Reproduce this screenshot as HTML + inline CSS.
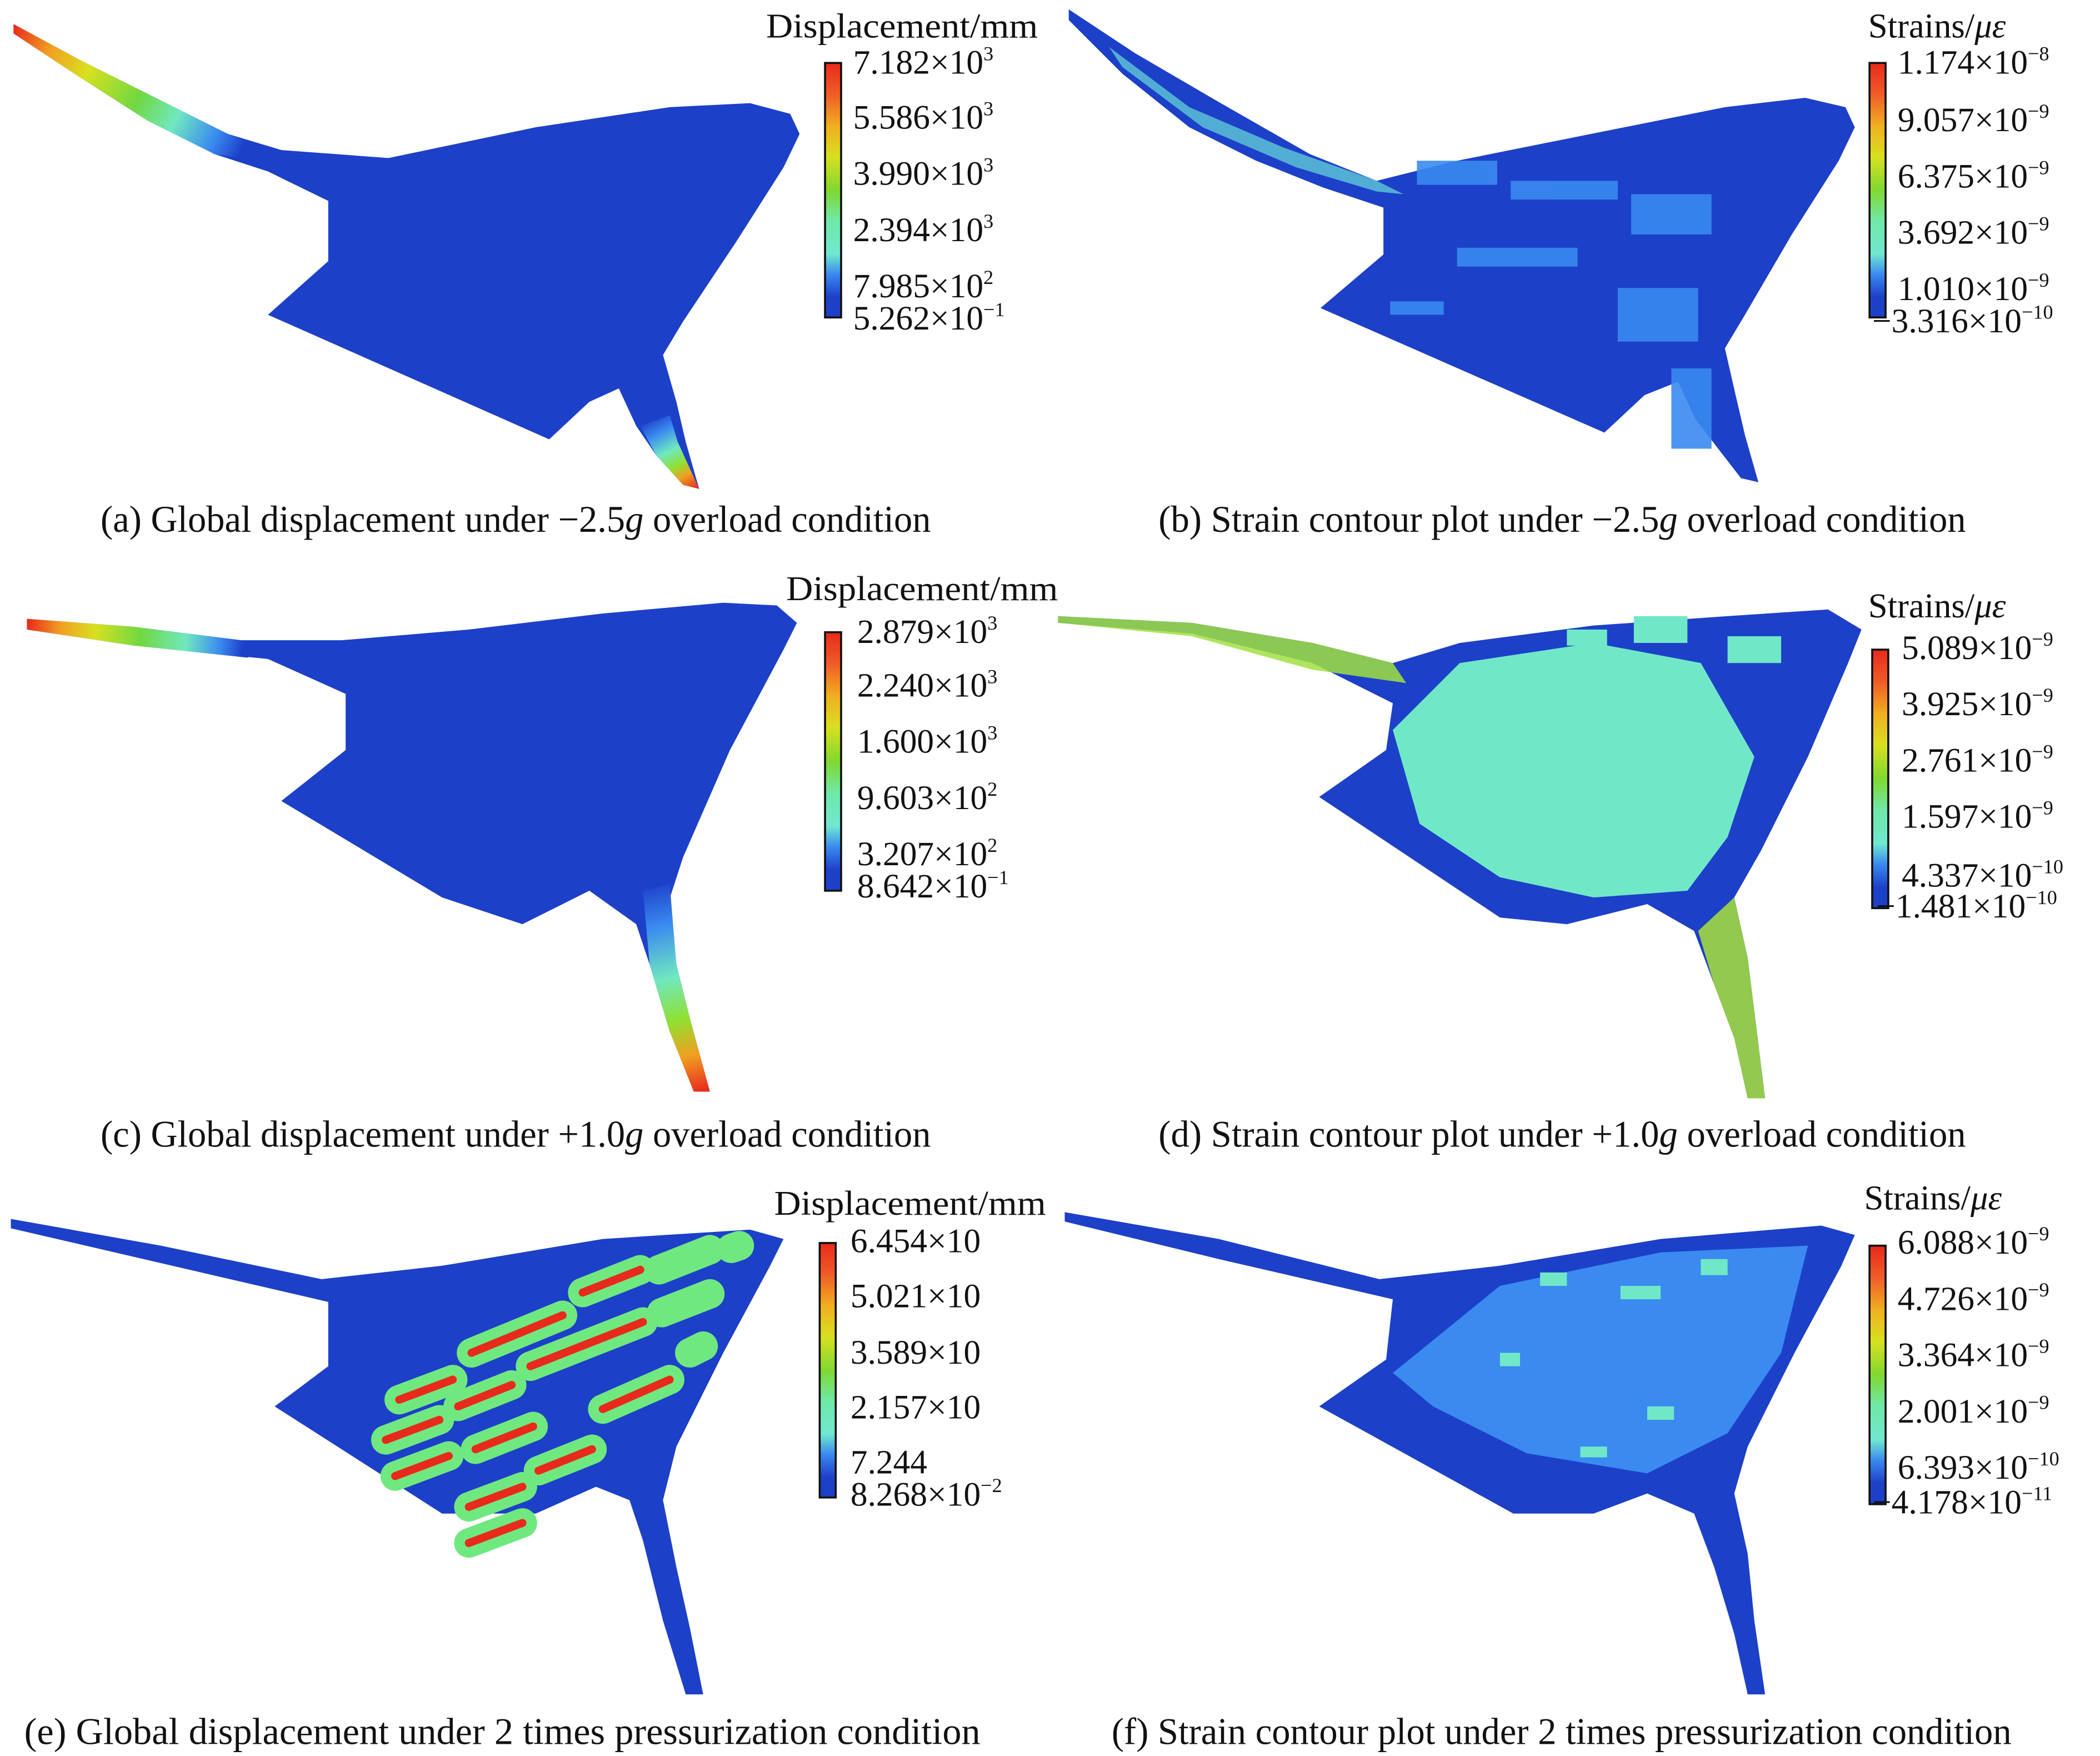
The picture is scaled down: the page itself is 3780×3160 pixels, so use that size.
<!DOCTYPE html>
<html><head><meta charset="utf-8"><style>
html,body{margin:0;padding:0;background:#fff;}
svg{display:block;}
text{font-family:"Liberation Serif",serif;fill:#111;}
.t{font-size:25.5px;}
.h{font-size:26px;}
.c{font-size:28px;}
.s{font-size:15px;}
</style></head><body>
<svg width="3780" height="3160" viewBox="0 0 1568 1311" xmlns="http://www.w3.org/2000/svg">
<defs>
<linearGradient id="wa" gradientUnits="userSpaceOnUse" x1="10" y1="20" x2="200" y2="120">
<stop offset="0" stop-color="#e82a1c"/><stop offset="0.15" stop-color="#f0a020"/><stop offset="0.3" stop-color="#d8e020"/><stop offset="0.5" stop-color="#70d840"/><stop offset="0.65" stop-color="#70e8c0"/><stop offset="0.8" stop-color="#3a8af0"/><stop offset="0.9" stop-color="#1d40c9"/>
</linearGradient>
<linearGradient id="ta" gradientUnits="userSpaceOnUse" x1="490" y1="310" x2="520" y2="365">
<stop offset="0" stop-color="#1d40c9"/><stop offset="0.2" stop-color="#3a8af0"/><stop offset="0.45" stop-color="#70e8c0"/><stop offset="0.65" stop-color="#90e030"/><stop offset="0.8" stop-color="#f0a020"/><stop offset="1" stop-color="#e82a1c"/>
</linearGradient>
<linearGradient id="wc" gradientUnits="userSpaceOnUse" x1="20" y1="466" x2="190" y2="480">
<stop offset="0" stop-color="#e82a1c"/><stop offset="0.15" stop-color="#f0a020"/><stop offset="0.3" stop-color="#d8e020"/><stop offset="0.5" stop-color="#70d840"/><stop offset="0.7" stop-color="#70e8c0"/><stop offset="0.85" stop-color="#3a8af0"/><stop offset="0.95" stop-color="#1d40c9"/>
</linearGradient>
<linearGradient id="tc" gradientUnits="userSpaceOnUse" x1="485" y1="660" x2="525" y2="815">
<stop offset="0" stop-color="#1d40c9"/><stop offset="0.2" stop-color="#3a8af0"/><stop offset="0.45" stop-color="#70e8c0"/><stop offset="0.65" stop-color="#90e030"/><stop offset="0.82" stop-color="#f0a020"/><stop offset="1" stop-color="#e82a1c"/>
</linearGradient>
<linearGradient id="cb" x1="0" y1="0" x2="0" y2="1">
<stop offset="0" stop-color="#e82a1c"/><stop offset="0.12" stop-color="#f05a28"/><stop offset="0.25" stop-color="#f0b020"/><stop offset="0.37" stop-color="#d8e020"/><stop offset="0.5" stop-color="#80d830"/><stop offset="0.62" stop-color="#70e8a8"/><stop offset="0.75" stop-color="#70e8d0"/><stop offset="0.83" stop-color="#3a8af0"/><stop offset="0.92" stop-color="#1d40c9"/><stop offset="1" stop-color="#1d40c9"/>
</linearGradient>
</defs>

<!-- (a) -->
<polygon fill="#1d40c9" points="10,18 60,45 120,75 170,100 210,112 290,118 400,95 500,80 560,77 590,85 597,100 585,125 550,180 510,240 495,265 505,300 512,330 522,365 510,362 490,340 475,318 462,290 440,300 410,328 200,235 245,195 245,150 200,128 160,115 110,90 60,58 10,25"/>
<polygon fill="url(#wa)" points="10,18 60,45 120,75 170,100 185,106 180,118 160,115 110,90 60,58 10,25"/>
<polygon fill="url(#ta)" points="478,318 500,310 506,330 522,365 510,362 490,340"/>
<!-- (c) -->
<polygon fill="#1d40c9" points="20,462 100,468 180,478 255,478 350,470 450,458 540,450 580,452 595,465 585,485 545,560 510,640 497,680 505,720 515,760 530,815 518,815 500,770 485,720 475,690 440,665 390,690 330,670 210,598 258,560 258,518 200,492 100,482 20,470"/>
<polygon fill="url(#wc)" points="20,462 100,468 180,478 190,479 185,491 100,482 20,470"/>
<polygon fill="url(#tc)" points="480,665 500,660 505,720 515,760 530,815 518,815 500,770 485,720"/>
<!-- (e) -->
<polygon fill="#1d40c9" points="8,910 120,930 240,955 330,945 450,925 560,918 585,925 575,945 540,1010 505,1080 495,1120 505,1170 515,1215 525,1265 512,1265 495,1210 480,1150 470,1120 445,1110 400,1130 330,1130 205,1050 245,1020 245,972 120,943 8,917"/>
<g stroke-linecap="round">
<g stroke="#70e880" stroke-width="22">
<line x1="298" y1="1045" x2="338" y2="1030"/><line x1="352" y1="1010" x2="420" y2="982"/><line x1="435" y1="965" x2="478" y2="948"/><line x1="492" y1="948" x2="530" y2="933"/><line x1="546" y1="932" x2="552" y2="930"/>
<line x1="288" y1="1075" x2="328" y2="1060"/><line x1="342" y1="1050" x2="382" y2="1034"/><line x1="396" y1="1020" x2="480" y2="987"/><line x1="494" y1="980" x2="530" y2="966"/>
<line x1="295" y1="1102" x2="335" y2="1087"/><line x1="355" y1="1082" x2="398" y2="1065"/><line x1="450" y1="1052" x2="500" y2="1030"/><line x1="515" y1="1010" x2="525" y2="1005"/>
<line x1="350" y1="1125" x2="390" y2="1110"/><line x1="402" y1="1098" x2="442" y2="1082"/><line x1="350" y1="1152" x2="390" y2="1137"/>
</g>
<g stroke="#e82a1c" stroke-width="6">
<line x1="298" y1="1045" x2="338" y2="1030"/><line x1="352" y1="1010" x2="420" y2="982"/><line x1="435" y1="965" x2="478" y2="948"/>
<line x1="288" y1="1075" x2="328" y2="1060"/><line x1="342" y1="1050" x2="382" y2="1034"/><line x1="396" y1="1020" x2="480" y2="987"/>
<line x1="295" y1="1102" x2="335" y2="1087"/><line x1="355" y1="1082" x2="398" y2="1065"/><line x1="450" y1="1052" x2="500" y2="1030"/>
<line x1="350" y1="1125" x2="390" y2="1110"/><line x1="402" y1="1098" x2="442" y2="1082"/><line x1="350" y1="1152" x2="390" y2="1137"/>
</g>
</g>

<!-- (b) -->
<g transform="translate(788,-5)">
<polygon fill="#1d40c9" points="10,12 60,45 120,80 190,120 240,140 300,125 400,105 500,85 560,78 590,85 597,100 585,125 550,180 515,240 500,265 508,300 515,330 525,365 512,362 495,340 478,318 465,290 440,300 410,328 198,235 245,195 245,160 200,145 150,125 100,100 50,60 10,20"/>
<polygon fill="#60c8d8" opacity="0.8" points="40,40 100,85 170,115 240,140 260,150 240,148 180,130 110,100 50,55"/>
<g fill="#3a8af0" opacity="0.9">
<rect x="270" y="125" width="60" height="18"/><rect x="340" y="140" width="80" height="14"/><rect x="430" y="150" width="60" height="30"/><rect x="300" y="190" width="90" height="14"/><rect x="420" y="220" width="60" height="40"/><rect x="460" y="280" width="30" height="60"/><rect x="250" y="230" width="40" height="10"/>
</g>
</g>
<!-- (d) -->
<g transform="translate(790,455)">
<polygon fill="#1d40c9" points="0,5 100,10 190,25 250,40 300,25 400,12 500,5 575,0 600,15 590,40 560,110 525,180 505,215 515,260 520,300 528,365 515,365 505,320 490,280 475,240 440,220 380,235 330,230 195,140 245,105 250,70 190,40 100,18 0,10"/>
<polygon fill="#a0e040" opacity="0.85" points="0,5 100,10 190,25 250,40 260,55 190,45 100,20 0,10"/>
<polygon fill="#70e8c8" points="250,90 300,40 400,25 480,40 520,110 500,170 470,210 400,215 330,200 270,160"/>
<polygon fill="#a0d840" opacity="0.9" points="478,240 505,215 515,260 520,300 528,365 515,365 505,320 490,280"/>
<g fill="#70e8c8"><rect x="430" y="5" width="40" height="20"/><rect x="500" y="20" width="40" height="20"/><rect x="380" y="15" width="30" height="12"/></g>
</g>
<!-- (f) -->
<g transform="translate(790,900)">
<polygon fill="#1d40c9" points="5,5 120,25 240,55 330,45 450,25 570,15 595,22 585,45 550,110 515,180 505,215 515,260 520,310 528,365 515,365 505,320 490,270 475,230 440,215 400,230 340,230 195,150 245,115 250,70 120,40 5,12"/>
<polygon fill="#3a8af0" points="250,125 330,60 450,35 560,30 540,110 500,170 440,200 350,185 280,150"/>
<g fill="#70e8c8"><rect x="360" y="50" width="20" height="10"/><rect x="420" y="60" width="30" height="10"/><rect x="480" y="40" width="20" height="12"/><rect x="330" y="110" width="15" height="10"/><rect x="440" y="150" width="20" height="10"/><rect x="390" y="180" width="20" height="8"/></g>
</g>

<!-- colorbars -->
<g stroke="#111" stroke-width="1.5">
<rect x="616" y="47" width="12" height="190" fill="url(#cb)"/>
<rect x="1396" y="47" width="12" height="190" fill="url(#cb)"/>
<rect x="616" y="472" width="12" height="193" fill="url(#cb)"/>
<rect x="1398" y="485" width="12" height="193" fill="url(#cb)"/>
<rect x="612" y="928" width="12" height="190" fill="url(#cb)"/>
<rect x="1396" y="930" width="12" height="193" fill="url(#cb)"/>
</g>

<!-- labels a -->
<text class="h" x="572" y="28" textLength="203" lengthAdjust="spacingAndGlyphs">Displacement/mm</text>
<text class="t" x="637" y="55">7.182×10<tspan class="s" dy="-10">3</tspan></text>
<text class="t" x="637" y="96">5.586×10<tspan class="s" dy="-10">3</tspan></text>
<text class="t" x="637" y="138">3.990×10<tspan class="s" dy="-10">3</tspan></text>
<text class="t" x="637" y="180">2.394×10<tspan class="s" dy="-10">3</tspan></text>
<text class="t" x="637" y="222">7.985×10<tspan class="s" dy="-10">2</tspan></text>
<text class="t" x="637" y="246">5.262×10<tspan class="s" dy="-10">−1</tspan></text>
<!-- b -->
<text class="h" x="1395" y="28">Strains/<tspan font-style="italic">με</tspan></text>
<text class="t" x="1417" y="55">1.174×10<tspan class="s" dy="-10">−8</tspan></text>
<text class="t" x="1417" y="98">9.057×10<tspan class="s" dy="-10">−9</tspan></text>
<text class="t" x="1417" y="140">6.375×10<tspan class="s" dy="-10">−9</tspan></text>
<text class="t" x="1417" y="182">3.692×10<tspan class="s" dy="-10">−9</tspan></text>
<text class="t" x="1417" y="224">1.010×10<tspan class="s" dy="-10">−9</tspan></text>
<text class="t" x="1398" y="248">−3.316×10<tspan class="s" dy="-10">−10</tspan></text>
<!-- c -->
<text class="h" x="587" y="448" textLength="203" lengthAdjust="spacingAndGlyphs">Displacement/mm</text>
<text class="t" x="640" y="480">2.879×10<tspan class="s" dy="-10">3</tspan></text>
<text class="t" x="640" y="520">2.240×10<tspan class="s" dy="-10">3</tspan></text>
<text class="t" x="640" y="562">1.600×10<tspan class="s" dy="-10">3</tspan></text>
<text class="t" x="640" y="604">9.603×10<tspan class="s" dy="-10">2</tspan></text>
<text class="t" x="640" y="646">3.207×10<tspan class="s" dy="-10">2</tspan></text>
<text class="t" x="640" y="670">8.642×10<tspan class="s" dy="-10">−1</tspan></text>
<!-- d -->
<text class="h" x="1395" y="461">Strains/<tspan font-style="italic">με</tspan></text>
<text class="t" x="1420" y="492">5.089×10<tspan class="s" dy="-10">−9</tspan></text>
<text class="t" x="1420" y="534">3.925×10<tspan class="s" dy="-10">−9</tspan></text>
<text class="t" x="1420" y="576">2.761×10<tspan class="s" dy="-10">−9</tspan></text>
<text class="t" x="1420" y="618">1.597×10<tspan class="s" dy="-10">−9</tspan></text>
<text class="t" x="1420" y="662">4.337×10<tspan class="s" dy="-10">−10</tspan></text>
<text class="t" x="1401" y="685">−1.481×10<tspan class="s" dy="-10">−10</tspan></text>
<!-- e -->
<text class="h" x="578" y="907" textLength="203" lengthAdjust="spacingAndGlyphs">Displacement/mm</text>
<text class="t" x="635" y="935">6.454×10</text>
<text class="t" x="635" y="976">5.021×10</text>
<text class="t" x="635" y="1018">3.589×10</text>
<text class="t" x="635" y="1059">2.157×10</text>
<text class="t" x="635" y="1100">7.244</text>
<text class="t" x="635" y="1124">8.268×10<tspan class="s" dy="-10">−2</tspan></text>
<!-- f -->
<text class="h" x="1392" y="903">Strains/<tspan font-style="italic">με</tspan></text>
<text class="t" x="1417" y="936">6.088×10<tspan class="s" dy="-10">−9</tspan></text>
<text class="t" x="1417" y="978">4.726×10<tspan class="s" dy="-10">−9</tspan></text>
<text class="t" x="1417" y="1020">3.364×10<tspan class="s" dy="-10">−9</tspan></text>
<text class="t" x="1417" y="1062">2.001×10<tspan class="s" dy="-10">−9</tspan></text>
<text class="t" x="1417" y="1104">6.393×10<tspan class="s" dy="-10">−10</tspan></text>
<text class="t" x="1398" y="1130">−4.178×10<tspan class="s" dy="-10">−11</tspan></text>

<!-- captions -->
<text class="c" x="75" y="397" textLength="620" lengthAdjust="spacingAndGlyphs">(a) Global displacement under −2.5<tspan font-style="italic">g</tspan> overload condition</text>
<text class="c" x="865" y="397" textLength="603" lengthAdjust="spacingAndGlyphs">(b) Strain contour plot under −2.5<tspan font-style="italic">g</tspan> overload condition</text>
<text class="c" x="75" y="856" textLength="620" lengthAdjust="spacingAndGlyphs">(c) Global displacement under +1.0<tspan font-style="italic">g</tspan> overload condition</text>
<text class="c" x="865" y="856" textLength="603" lengthAdjust="spacingAndGlyphs">(d) Strain contour plot under +1.0<tspan font-style="italic">g</tspan> overload condition</text>
<text class="c" x="18" y="1302" textLength="714" lengthAdjust="spacingAndGlyphs">(e) Global displacement under 2 times pressurization condition</text>
<text class="c" x="830" y="1302" textLength="672" lengthAdjust="spacingAndGlyphs">(f) Strain contour plot under 2 times pressurization condition</text>
</svg>
</body></html>
